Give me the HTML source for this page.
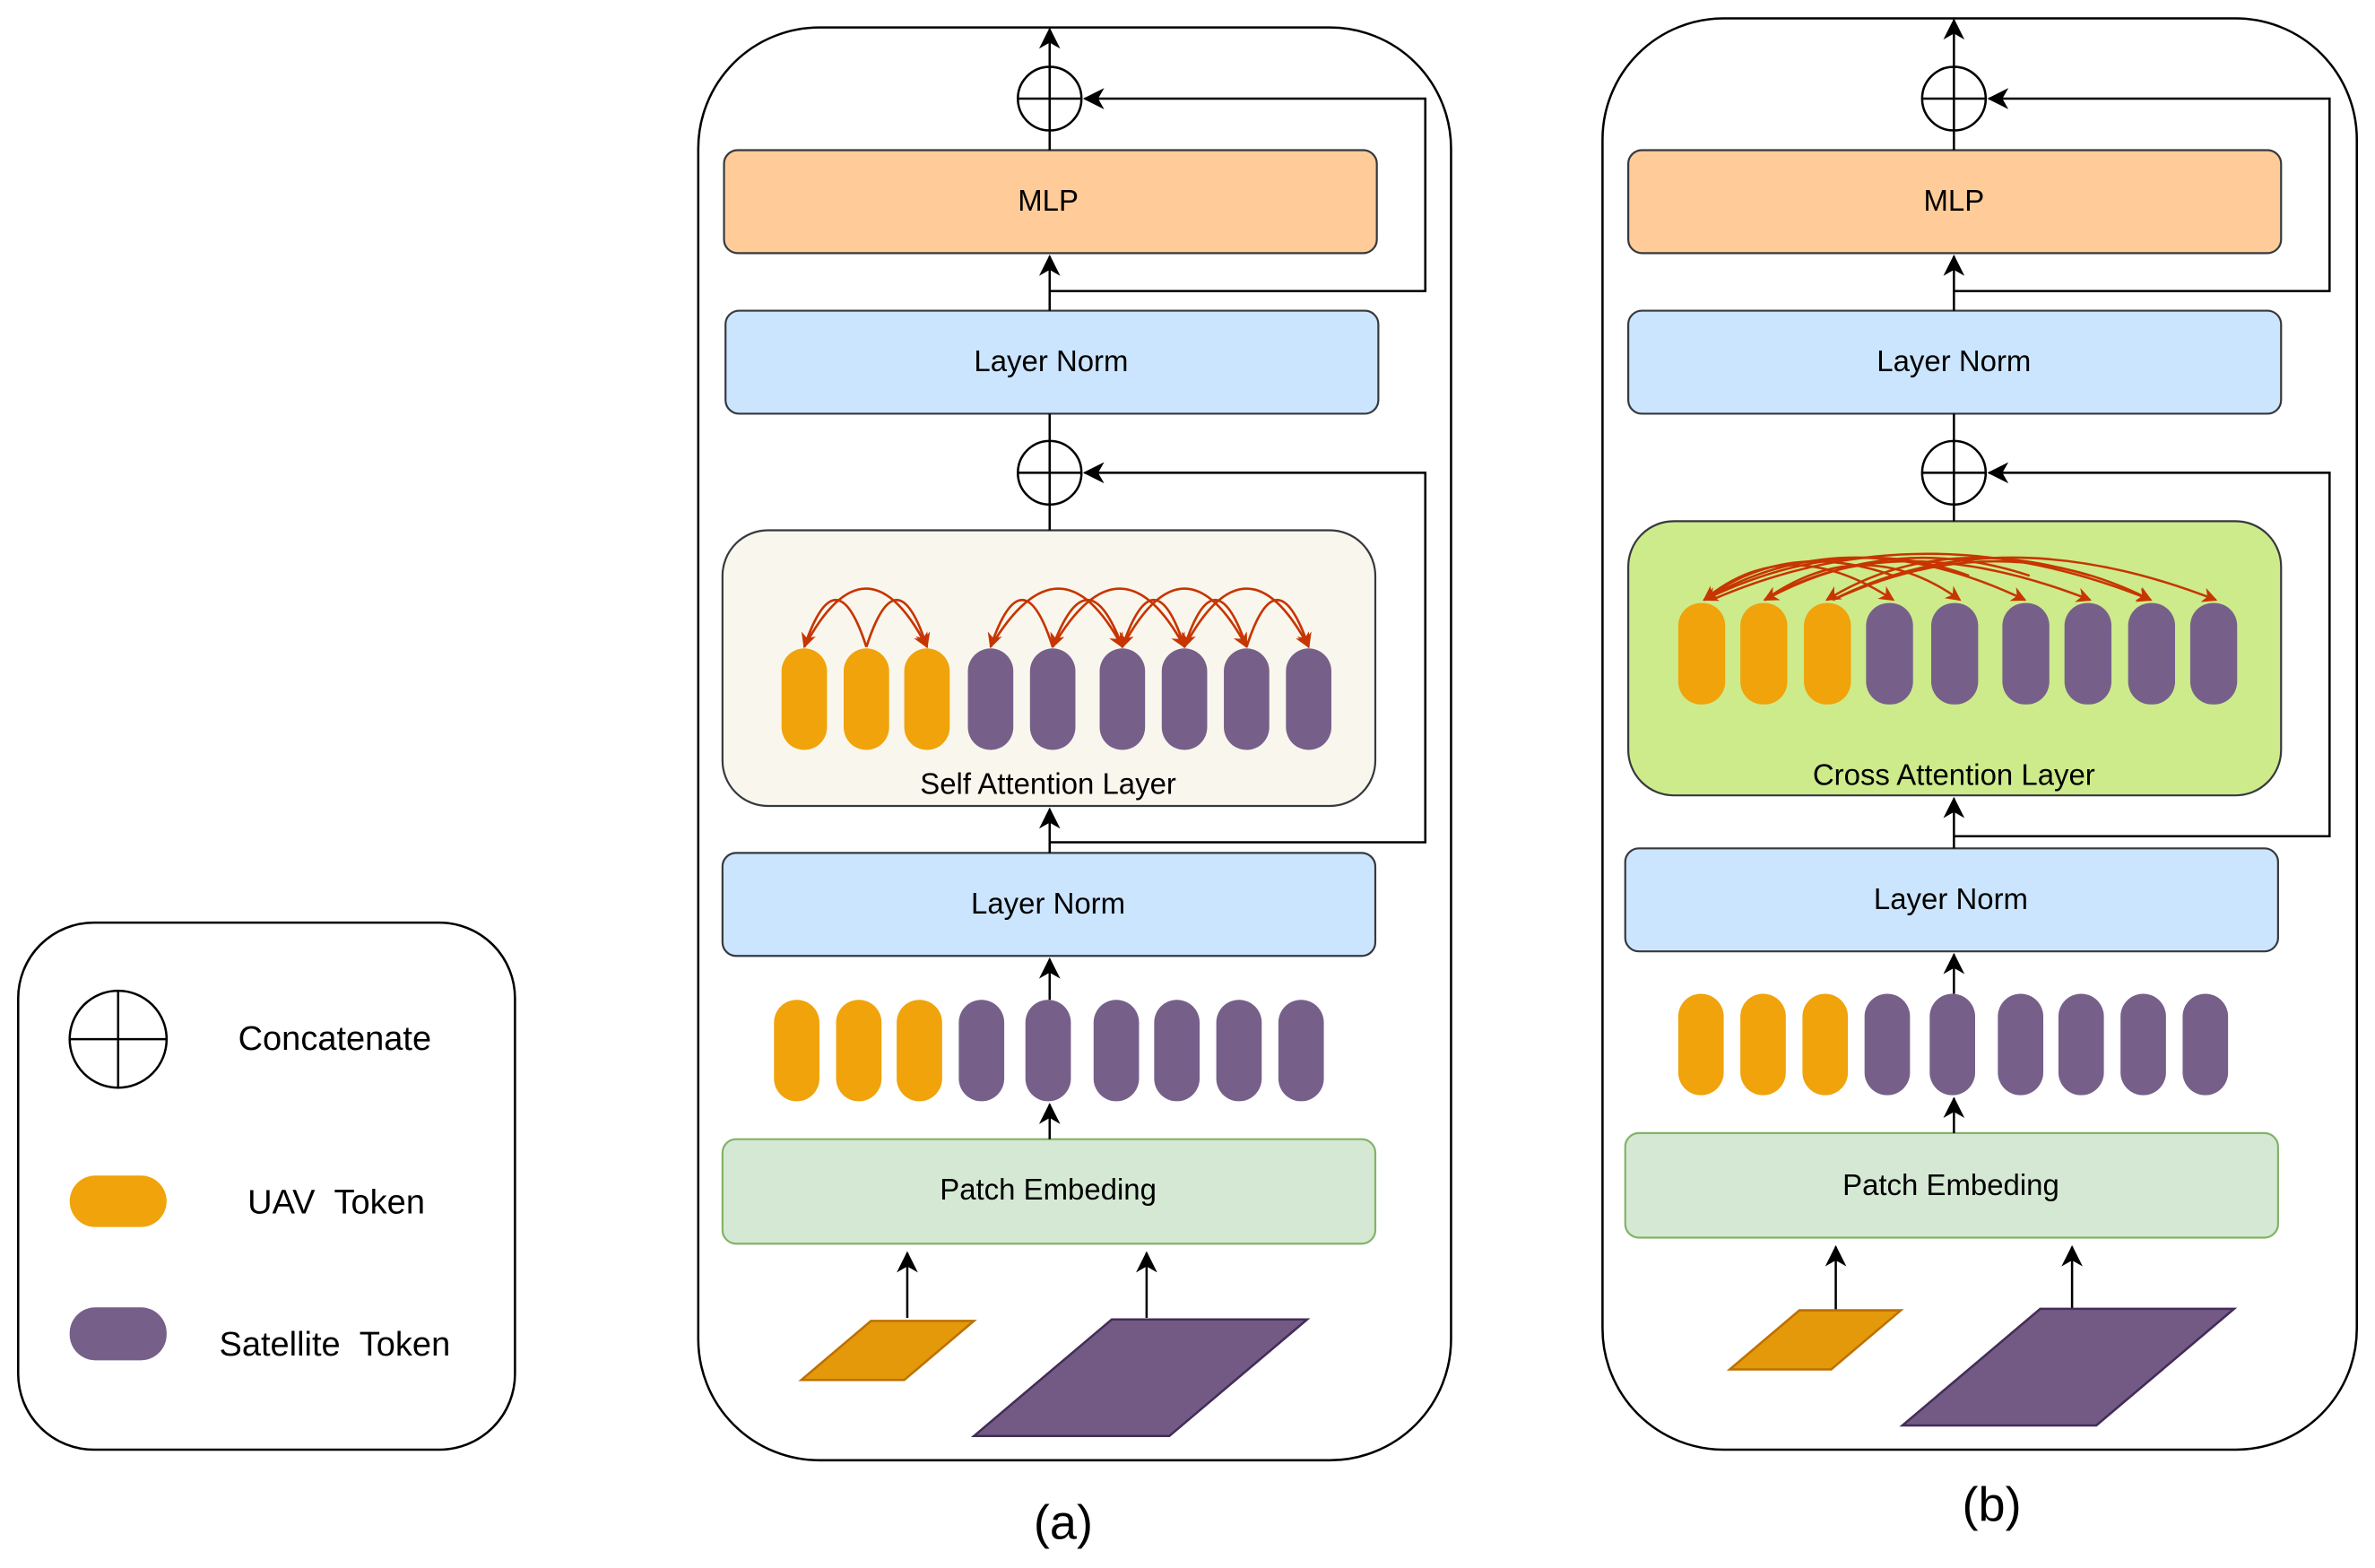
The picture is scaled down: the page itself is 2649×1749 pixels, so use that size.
<!DOCTYPE html>
<html><head><style>html,body{margin:0;padding:0;background:#fff}svg{display:block}</style></head>
<body>
<svg width="2649" height="1749" viewBox="0 0 1568 1035" xmlns="http://www.w3.org/2000/svg" font-family="Liberation Sans, sans-serif">
<defs>
<marker id="ab" markerWidth="14" markerHeight="14" refX="13" refY="7" orient="auto" markerUnits="userSpaceOnUse"><path d="M0,0 L14,7 L0,14 L4,7 z" fill="#000"/></marker>
<marker id="ar" markerWidth="10" markerHeight="10" refX="9" refY="5" orient="auto" markerUnits="userSpaceOnUse"><path d="M0,0 L10,5 L0,10 L3,5 z" fill="#C73500"/></marker>
</defs>
<!-- Legend -->
<rect x="12" y="609" width="328" height="348" rx="50" fill="#fff" stroke="#000" stroke-width="1.5"/>
<circle cx="78" cy="686" r="32" fill="#fff" stroke="#000" stroke-width="1.5"/>
<line x1="46" y1="686" x2="110" y2="686" stroke="#000" stroke-width="1.5"/><line x1="78" y1="654" x2="78" y2="718" stroke="#000" stroke-width="1.5"/>
<text x="221" y="693" font-size="22.5" text-anchor="middle">Concatenate</text>
<rect x="46" y="776" width="64" height="34" rx="17" fill="#F0A30A"/>
<text x="222" y="801" font-size="22.5" text-anchor="middle">UAV&#160;&#160;Token</text>
<rect x="46" y="863" width="64" height="35" rx="17" fill="#76608A"/>
<text x="221" y="895" font-size="22.5" text-anchor="middle">Satellite&#160;&#160;Token</text>

<!-- Panel a -->
<rect x="461" y="18" width="497" height="946" rx="80" fill="#fff" stroke="#000" stroke-width="1.5"/>
<g stroke="#36393d" stroke-width="1.3">
<rect x="478" y="99" width="431" height="68" rx="9" fill="#FFCC99"/>
<rect x="479" y="205" width="431" height="68" rx="9" fill="#CCE5FF"/>
<rect x="477" y="350" width="431" height="182" rx="30" fill="#F9F7ED"/>
<rect x="477" y="563" width="431" height="68" rx="9" fill="#CCE5FF"/>
<rect x="477" y="752" width="431" height="69" rx="9" fill="#D5E8D4" stroke="#82B366"/>
</g>
<g font-size="19.5" text-anchor="middle">
<text x="692" y="139">MLP</text><text x="694" y="245">Layer Norm</text>
<text x="692" y="524">Self Attention Layer</text><text x="692" y="603">Layer Norm</text>
<text x="692" y="792">Patch Embeding</text>
</g>
<g stroke="#000" stroke-width="1.5" fill="none">
<circle cx="693" cy="65" r="21" fill="#fff"/><line x1="672" y1="65" x2="714" y2="65"/><line x1="693" y1="44" x2="693" y2="86"/>
<circle cx="693" cy="312" r="21" fill="#fff"/><line x1="672" y1="312" x2="714" y2="312"/><line x1="693" y1="291" x2="693" y2="333"/>
<line x1="693" y1="44" x2="693" y2="19" marker-end="url(#ab)"/>
<line x1="693" y1="86" x2="693" y2="99"/>
<line x1="693" y1="205" x2="693" y2="169" marker-end="url(#ab)"/>
<polyline points="693,192 941,192 941,65 716,65" marker-end="url(#ab)"/>
<line x1="693" y1="291" x2="693" y2="273"/>
<line x1="693" y1="333" x2="693" y2="350"/>
<polyline points="693,556 941,556 941,312 716,312" marker-end="url(#ab)"/>
<line x1="693" y1="563" x2="693" y2="534" marker-end="url(#ab)"/>
<line x1="693" y1="660" x2="693" y2="633" marker-end="url(#ab)"/>
<line x1="693" y1="752" x2="693" y2="729" marker-end="url(#ab)"/>
<line x1="599" y1="870" x2="599" y2="827" marker-end="url(#ab)"/>
<line x1="757" y1="870" x2="757" y2="827" marker-end="url(#ab)"/>
</g>
<g fill="#F0A30A"><rect x="516" y="428" width="30" height="67" rx="15"/><rect x="557" y="428" width="30" height="67" rx="15"/><rect x="597" y="428" width="30" height="67" rx="15"/>
<rect x="511" y="660" width="30" height="67" rx="15"/><rect x="552" y="660" width="30" height="67" rx="15"/><rect x="592" y="660" width="30" height="67" rx="15"/></g>
<g fill="#76608A"><rect x="639" y="428" width="30" height="67" rx="15"/><rect x="680" y="428" width="30" height="67" rx="15"/><rect x="726" y="428" width="30" height="67" rx="15"/><rect x="767" y="428" width="30" height="67" rx="15"/><rect x="808" y="428" width="30" height="67" rx="15"/><rect x="849" y="428" width="30" height="67" rx="15"/>
<rect x="633" y="660" width="30" height="67" rx="15"/><rect x="677" y="660" width="30" height="67" rx="15"/><rect x="722" y="660" width="30" height="67" rx="15"/><rect x="762" y="660" width="30" height="67" rx="15"/><rect x="803" y="660" width="30" height="67" rx="15"/><rect x="844" y="660" width="30" height="67" rx="15"/></g>
<g stroke="#C73500" stroke-width="1.6" fill="none" marker-end="url(#ar)">
<path d="M572,427 Q552,365 531,427"/><path d="M531,427 Q572,350 612,427"/><path d="M572,427 Q592,365 612,427"/>
<path d="M695,427 Q675,365 654,427"/><path d="M654,427 Q700,350 741,427"/><path d="M741,427 Q718,365 695,427"/><path d="M695,427 Q740,350 782,427"/><path d="M782,427 Q762,365 741,427"/><path d="M741,427 Q782,350 823,427"/><path d="M823,427 Q802,365 782,427"/><path d="M782,427 Q823,350 864,427"/><path d="M823,427 Q843,365 864,427"/>
</g>
<polygon points="529,911 575,872 643,872 597,911" fill="#E3990A" stroke="#BD7000" stroke-width="1.5"/>
<polygon points="643,948 734,871 863,871 772,948" fill="#735A85" stroke="#432D57" stroke-width="1.5"/>
<text x="702" y="1016" font-size="32" text-anchor="middle">(a)</text>

<!-- Panel b -->
<rect x="1058" y="12" width="498" height="945" rx="80" fill="#fff" stroke="#000" stroke-width="1.5"/>
<g stroke="#36393d" stroke-width="1.3">
<rect x="1075" y="99" width="431" height="68" rx="9" fill="#FFCC99"/>
<rect x="1075" y="205" width="431" height="68" rx="9" fill="#CCE5FF"/>
<rect x="1075" y="344" width="431" height="181" rx="30" fill="#CDEB8B"/>
<rect x="1073" y="560" width="431" height="68" rx="9" fill="#CCE5FF"/>
<rect x="1073" y="748" width="431" height="69" rx="9" fill="#D5E8D4" stroke="#82B366"/>
</g>
<g font-size="19.5" text-anchor="middle">
<text x="1290" y="139">MLP</text><text x="1290" y="245">Layer Norm</text>
<text x="1290" y="518">Cross Attention Layer</text><text x="1288" y="600">Layer Norm</text>
<text x="1288" y="789">Patch Embeding</text>
</g>
<g stroke="#000" stroke-width="1.5" fill="none">
<circle cx="1290" cy="65" r="21" fill="#fff"/><line x1="1269" y1="65" x2="1311" y2="65"/><line x1="1290" y1="44" x2="1290" y2="86"/>
<circle cx="1290" cy="312" r="21" fill="#fff"/><line x1="1269" y1="312" x2="1311" y2="312"/><line x1="1290" y1="291" x2="1290" y2="333"/>
<line x1="1290" y1="44" x2="1290" y2="13" marker-end="url(#ab)"/>
<line x1="1290" y1="86" x2="1290" y2="99"/>
<line x1="1290" y1="205" x2="1290" y2="169" marker-end="url(#ab)"/>
<polyline points="1290,192 1538,192 1538,65 1313,65" marker-end="url(#ab)"/>
<line x1="1290" y1="291" x2="1290" y2="273"/>
<line x1="1290" y1="333" x2="1290" y2="344"/>
<polyline points="1290,552 1538,552 1538,312 1313,312" marker-end="url(#ab)"/>
<line x1="1290" y1="560" x2="1290" y2="527" marker-end="url(#ab)"/>
<line x1="1290" y1="656" x2="1290" y2="630" marker-end="url(#ab)"/>
<line x1="1290" y1="748" x2="1290" y2="725" marker-end="url(#ab)"/>
<line x1="1212" y1="866" x2="1212" y2="823" marker-end="url(#ab)"/>
<line x1="1368" y1="866" x2="1368" y2="823" marker-end="url(#ab)"/>
</g>
<g fill="#F0A30A"><rect x="1108" y="398" width="31" height="67" rx="15"/><rect x="1149" y="398" width="31" height="67" rx="15"/><rect x="1191" y="398" width="31" height="67" rx="15"/>
<rect x="1108" y="656" width="30" height="67" rx="15"/><rect x="1149" y="656" width="30" height="67" rx="15"/><rect x="1190" y="656" width="30" height="67" rx="15"/></g>
<g fill="#76608A"><rect x="1232" y="398" width="31" height="67" rx="15"/><rect x="1275" y="398" width="31" height="67" rx="15"/><rect x="1322" y="398" width="31" height="67" rx="15"/><rect x="1363" y="398" width="31" height="67" rx="15"/><rect x="1405" y="398" width="31" height="67" rx="15"/><rect x="1446" y="398" width="31" height="67" rx="15"/>
<rect x="1231" y="656" width="30" height="67" rx="15"/><rect x="1274" y="656" width="30" height="67" rx="15"/><rect x="1319" y="656" width="30" height="67" rx="15"/><rect x="1359" y="656" width="30" height="67" rx="15"/><rect x="1400" y="656" width="30" height="67" rx="15"/><rect x="1441" y="656" width="30" height="67" rx="15"/></g>
<g stroke="#C73500" stroke-width="1.5" fill="none" marker-end="url(#ar)">
<path d="M1125,396 Q1180,350 1250,396"/><path d="M1125,396 Q1220,340 1337,396"/><path d="M1130,396 Q1270,335 1420,396"/>
<path d="M1165,396 Q1250,345 1380,396"/><path d="M1165,396 Q1230,350 1294,396"/><path d="M1210,396 Q1320,340 1463,396"/><path d="M1210,396 Q1320,345 1420,396"/>
<path d="M1300,380 Q1220,350 1125,396"/><path d="M1340,380 Q1250,350 1165,396"/><path d="M1380,380 Q1280,350 1206,396"/><path d="M1250,380 Q1180,355 1125,396"/>
</g>
<polygon points="1142,904 1188,865 1255,865 1209,904" fill="#E3990A" stroke="#BD7000" stroke-width="1.5"/>
<polygon points="1256,941 1347,864 1475,864 1384,941" fill="#735A85" stroke="#432D57" stroke-width="1.5"/>
<text x="1315" y="1004" font-size="32" text-anchor="middle">(b)</text>
</svg>
</body></html>
